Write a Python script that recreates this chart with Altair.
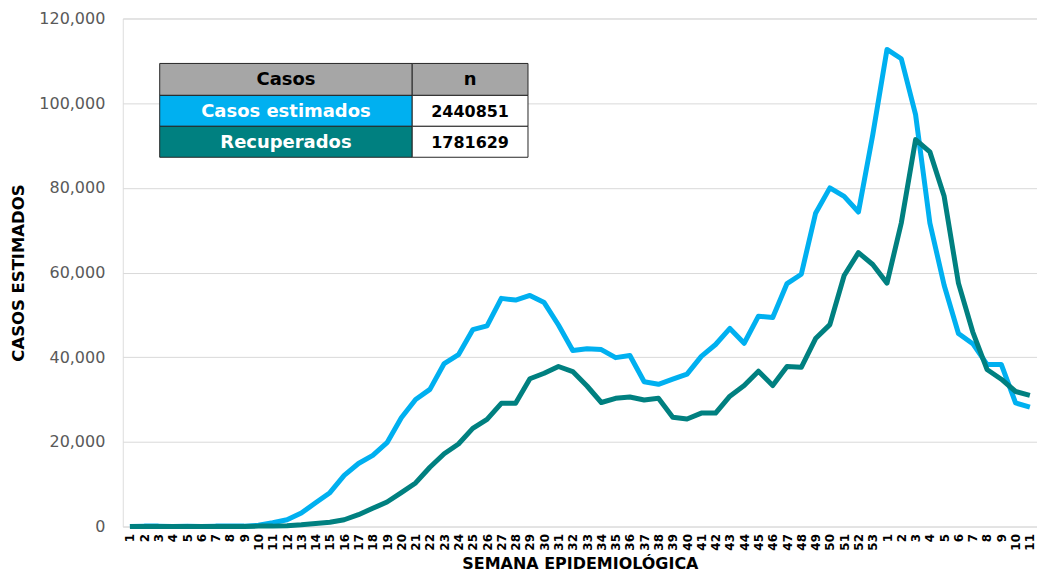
import json
import altair as alt
import pandas as pd

week_labels = [str(w) for w in range(1, 54)] + [str(w) for w in range(1, 12)]

casos_estimados = [
    0, 100, 100, 0, 100, 0, 100, 100, 100, 300,
    900, 1600, 3200, 5600, 8000, 12100, 14900, 16800, 19800, 25700,
    30000, 32400, 38500, 40600, 46500, 47400, 53900, 53500, 54600, 52900,
    47600, 41600, 42000, 41800, 39900, 40400, 34200, 33600, 34800, 36000,
    40200, 43000, 46800, 43300, 49700, 49400, 57400, 59600, 74000, 80000,
    78000, 74300, 92500,
    112700, 110500, 97300, 71700, 57000, 45600, 43200, 38300, 38300, 29200, 28200,
]
recuperados = [
    0, 0, 0, 0, 0, 0, 0, 0, 0, 100,
    100, 200, 400, 700, 1000, 1600, 2800, 4300, 5800, 8000,
    10300, 14000, 17200, 19500, 23200, 25300, 29100, 29100, 34900, 36200,
    37800, 36600, 33200, 29300, 30300, 30600, 29900, 30300, 25800, 25400,
    26800, 26800, 30800, 33300, 36700, 33300, 37800, 37600, 44400, 47700,
    59300, 64700, 61900,
    57500, 71700, 91400, 88500, 78000, 57500, 46000, 37100, 34800, 31900, 31000,
]
series_names = ["Casos estimados", "Recuperados"]
series_colors = ["#00b0f0", "#008080"]

table_header = ["Casos", "n"]
table_rows = ["Casos estimados", "Recuperados"]
table_values = ["2440851", "1781629"]

FONT = "DejaVu Sans"
W, H = 916, 509

rows = []
for i, lab in enumerate(week_labels):
    rows.append({"idx": i, "serie": series_names[0], "valor": casos_estimados[i]})
    rows.append({"idx": i, "serie": series_names[1], "valor": recuperados[i]})
df = pd.DataFrame(rows)

label_expr = json.dumps(week_labels) + "[datum.value]"

lines = alt.Chart(df).mark_line(strokeWidth=5, strokeJoin="round", strokeCap="butt").encode(
    x=alt.X("idx:O", scale=alt.Scale(type="point", padding=0.5),
            axis=alt.Axis(title="SEMANA EPIDEMIOLÓGICA", labelExpr=label_expr,
                          labelAngle=270, labelFont=FONT, labelFontSize=12,
                          labelFontWeight="bold", labelColor="#000000",
                          labelPadding=7, ticks=False, domain=False, grid=False,
                          titleFont=FONT, titleFontSize=16, titleFontWeight="bold",
                          titleColor="#000000", titlePadding=5)),
    y=alt.Y("valor:Q", scale=alt.Scale(domain=[0, 120000]),
            axis=alt.Axis(title="CASOS ESTIMADOS", values=list(range(0, 120001, 20000)),
                          format=",.0f", labelFont=FONT, labelFontSize=16,
                          labelColor="#595959", labelPadding=18, ticks=False,
                          domain=False, gridColor="#d9d9d9", gridWidth=1,
                          titleFont=FONT, titleFontSize=16.5, titleFontWeight="bold",
                          titleColor="#000000", titlePadding=12)),
    color=alt.Color("serie:N", scale=alt.Scale(domain=series_names, range=series_colors),
                    legend=None),
    order=alt.Order("idx:O"),
)

# table overlay (pixel layout relative to plot area)
tx0, tx1, tx2 = 37, 290, 406
ty = [45, 77, 108, 139]
cells = []
fills = ["#a6a6a6", "#a6a6a6", series_colors[0], "#ffffff", series_colors[1], "#ffffff"]
k = 0
for r in range(3):
    for c in range(2):
        cells.append({"x": [tx0, tx1][c], "x2": [tx1, tx2][c], "y": ty[r], "y2": ty[r + 1],
                      "fill": fills[k]})
        k += 1
texts = []
texts.append({"x": (tx0 + tx1) / 2, "y": (ty[0] + ty[1]) / 2, "t": table_header[0], "c": "#000000", "s": 18})
texts.append({"x": (tx1 + tx2) / 2, "y": (ty[0] + ty[1]) / 2, "t": table_header[1], "c": "#000000", "s": 18})
for r in range(2):
    texts.append({"x": (tx0 + tx1) / 2, "y": (ty[r + 1] + ty[r + 2]) / 2, "t": table_rows[r], "c": "#ffffff", "s": 18})
    texts.append({"x": (tx1 + tx2) / 2, "y": (ty[r + 1] + ty[r + 2]) / 2, "t": table_values[r], "c": "#000000", "s": 16})

cell_df = pd.DataFrame(cells)
text_df = pd.DataFrame(texts)

rects = alt.Chart(cell_df).mark_rect(stroke="#262626", strokeWidth=1).encode(
    x=alt.X("x:Q", scale=None), x2="x2:Q",
    y=alt.Y("y:Q", scale=None), y2="y2:Q",
    fill=alt.Fill("fill:N", scale=None),
)
labels = alt.Chart(text_df).mark_text(font=FONT, fontWeight="bold",
                                       baseline="middle", align="center", dy=1).encode(
    x=alt.X("x:Q", scale=None), y=alt.Y("y:Q", scale=None),
    text="t:N", color=alt.Color("c:N", scale=None),
    size=alt.Size("s:Q", scale=None),
)

chart = alt.layer(lines, rects, labels).properties(
    width=W, height=H,
    autosize=alt.AutoSizeParams(type="none"),
    padding={"left": 115, "top": 10, "right": 0, "bottom": 48},
).configure_view(stroke=None).configure(background="#ffffff")

chart.save("out.html", embed_options={"renderer": "svg", "actions": False})
